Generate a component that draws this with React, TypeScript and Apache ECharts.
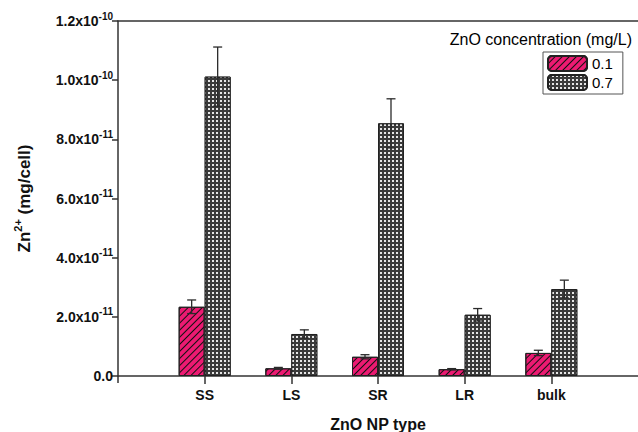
import React, { useEffect, useRef } from 'react';
import * as echarts from 'echarts';

const categories = ['', 'SS', 'LS', 'SR', 'LR', 'bulk', ''];
const lowConc = [2.34e-11, 0.26e-11, 0.65e-11, 0.23e-11, 0.78e-11];
const lowErr = [0.23e-11, 0.03e-11, 0.07e-11, 0.02e-11, 0.09e-11];
const highConc = [10.12e-11, 1.42e-11, 8.54e-11, 2.07e-11, 2.94e-11];
const highErr = [1.0e-11, 0.14e-11, 0.83e-11, 0.21e-11, 0.3e-11];
const yTickMain = ['0.0', '2.0x10', '4.0x10', '6.0x10', '8.0x10', '1.0x10', '1.2x10'];
const yTickExp = ['', '-11', '-11', '-11', '-11', '-10', '-10'];
const seriesNames = ['0.1', '0.7'];

const FONT = 'Liberation Sans, Arial, sans-serif';
const PINK = '#EC1A72';

export default function App() {
  const ref = useRef<HTMLDivElement>(null);
  useEffect(() => {
    if (!ref.current) return;
    const chart = echarts.init(ref.current, undefined, { renderer: 'svg' });
    const pad = (arr: number[]) => [null, ...arr, null];
    const errData = (vals: number[], errs: number[], side: number) =>
      vals.map((v, i) => [i + 1, v, errs[i], side]);
    const renderErr = (params: any, api: any) => {
      const idx = api.value(0);
      const v = api.value(1);
      const e = api.value(2);
      const side = api.value(3);
      const off = side * 13;
      const pTop = api.coord([idx, v + e]);
      const pBot = api.coord([idx, v - e]);
      const x = pTop[0] + off;
      const cap = 4.5;
      const st = { stroke: '#2a2a2a', lineWidth: 1.3 };
      return {
        type: 'group',
        children: [
          { type: 'line', shape: { x1: x, y1: pTop[1], x2: x, y2: pBot[1] }, style: st },
          { type: 'line', shape: { x1: x - cap, y1: pTop[1], x2: x + cap, y2: pTop[1] }, style: st },
          { type: 'line', shape: { x1: x - cap, y1: pBot[1], x2: x + cap, y2: pBot[1] }, style: st },
        ],
      };
    };
    chart.setOption({
      animation: false,
      grid: { left: 118, right: 0, top: 21, bottom: 56, outerBoundsMode: 'none', containLabel: false },
      legend: {
        data: seriesNames,
        orient: 'vertical',
        left: 543,
        top: 52,
        padding: [3, 10, 3, 4],
        itemGap: 2,
        itemWidth: 39,
        itemHeight: 15,
        borderColor: '#555',
        borderWidth: 1,
        textStyle: { fontSize: 15, fontFamily: FONT, color: '#000' },
      },
      graphic: [
        {
          type: 'text',
          x: 632,
          y: 39,
          style: {
            text: 'ZnO concentration (mg/L)',
            fontSize: 16,
            fontFamily: FONT,
            fill: '#000',
            textAlign: 'right',
            textVerticalAlign: 'middle',
          },
        },
        {
          type: 'line',
          shape: { x1: 118, y1: 376, x2: 118, y2: 383 },
          style: { stroke: '#333', lineWidth: 1.5 },
        },
      ],
      xAxis: [
        {
          type: 'category',
          data: categories,
          boundaryGap: false,
          axisLine: { lineStyle: { color: '#333', width: 1.5 } },
          axisTick: {
            length: 8,
            lineStyle: { color: '#333', width: 1.5 },
            interval: (i: number) => i > 0 && i < categories.length - 1,
          },
          axisLabel: {
            fontSize: 14,
            fontWeight: 'bold',
            fontFamily: FONT,
            color: '#111',
            margin: 12,
            interval: 0,
          },
          name: 'ZnO NP type',
          nameLocation: 'middle',
          nameGap: 40,
          nameTextStyle: { fontSize: 16, fontWeight: 'bold', fontFamily: FONT, color: '#111' },
        },
        {
          type: 'category',
          data: categories,
          boundaryGap: false,
          position: 'top',
          axisLine: { lineStyle: { color: '#333', width: 1.5 } },
          axisTick: { show: false },
          axisLabel: { show: false },
        },
      ],
      yAxis: {
        type: 'value',
        min: 0,
        max: 1.2e-10,
        interval: 2e-11,
        splitLine: { show: false },
        axisLine: { show: true, lineStyle: { color: '#333', width: 1.5 } },
        axisTick: { show: true, length: 6, lineStyle: { color: '#333', width: 1.5 } },
        axisLabel: {
          margin: 5,
          formatter: (v: number) => {
            const i = Math.round(v / 2e-11);
            return yTickExp[i] ? `{m|${yTickMain[i]}}{s|${yTickExp[i]}}` : `{m|${yTickMain[i]}}`;
          },
          rich: {
            m: { fontSize: 14, fontWeight: 'bold', fontFamily: FONT, color: '#111', lineHeight: 20 },
            s: { fontSize: 10, fontWeight: 'bold', fontFamily: FONT, color: '#111', lineHeight: 10, verticalAlign: 'top' },
          },
        },
        name: '{m|Zn}{s|2+}{m| (mg/cell)}',
        nameLocation: 'middle',
        nameRotate: 90,
        nameGap: 82,
        nameTextStyle: {
          rich: {
            m: { fontSize: 17, fontWeight: 'bold', fontFamily: FONT, color: '#111', lineHeight: 24 },
            s: { fontSize: 11, fontWeight: 'bold', fontFamily: FONT, color: '#111', lineHeight: 11, verticalAlign: 'top' },
          },
        },
      },
      series: [
        {
          name: seriesNames[0],
          type: 'bar',
          data: pad(lowConc),
          barWidth: 26,
          barGap: '0%',
          itemStyle: {
            color: PINK,
            borderColor: '#222',
            borderWidth: 1,
            decal: {
              symbol: 'rect',
              symbolSize: 1,
              color: '#111',
              dashArrayX: [1, 0],
              dashArrayY: [1, 3.6],
              rotation: -Math.PI / 4,
            },
          },
        },
        {
          name: seriesNames[1],
          type: 'bar',
          data: pad(highConc),
          barWidth: 26,
          barGap: '0%',
          itemStyle: {
            color: '#3a3a3a',
            borderColor: '#222',
            borderWidth: 1,
            decal: {
              symbol: 'rect',
              symbolSize: 1,
              color: '#e6e6e6',
              dashArrayX: [1.4, 1.6],
              dashArrayY: [1.4, 1.6],
            },
          },
        },
        {
          type: 'custom',
          renderItem: renderErr,
          data: errData(lowConc, lowErr, -1),
          z: 10,
          silent: true,
        },
        {
          type: 'custom',
          renderItem: renderErr,
          data: errData(highConc, highErr, 1),
          z: 10,
          silent: true,
        },
      ],
    });
    return () => chart.dispose();
  }, []);
  return <div ref={ref} style={{ width: 638, height: 432, position: 'absolute', left: 0, top: 0 }} />;
}
